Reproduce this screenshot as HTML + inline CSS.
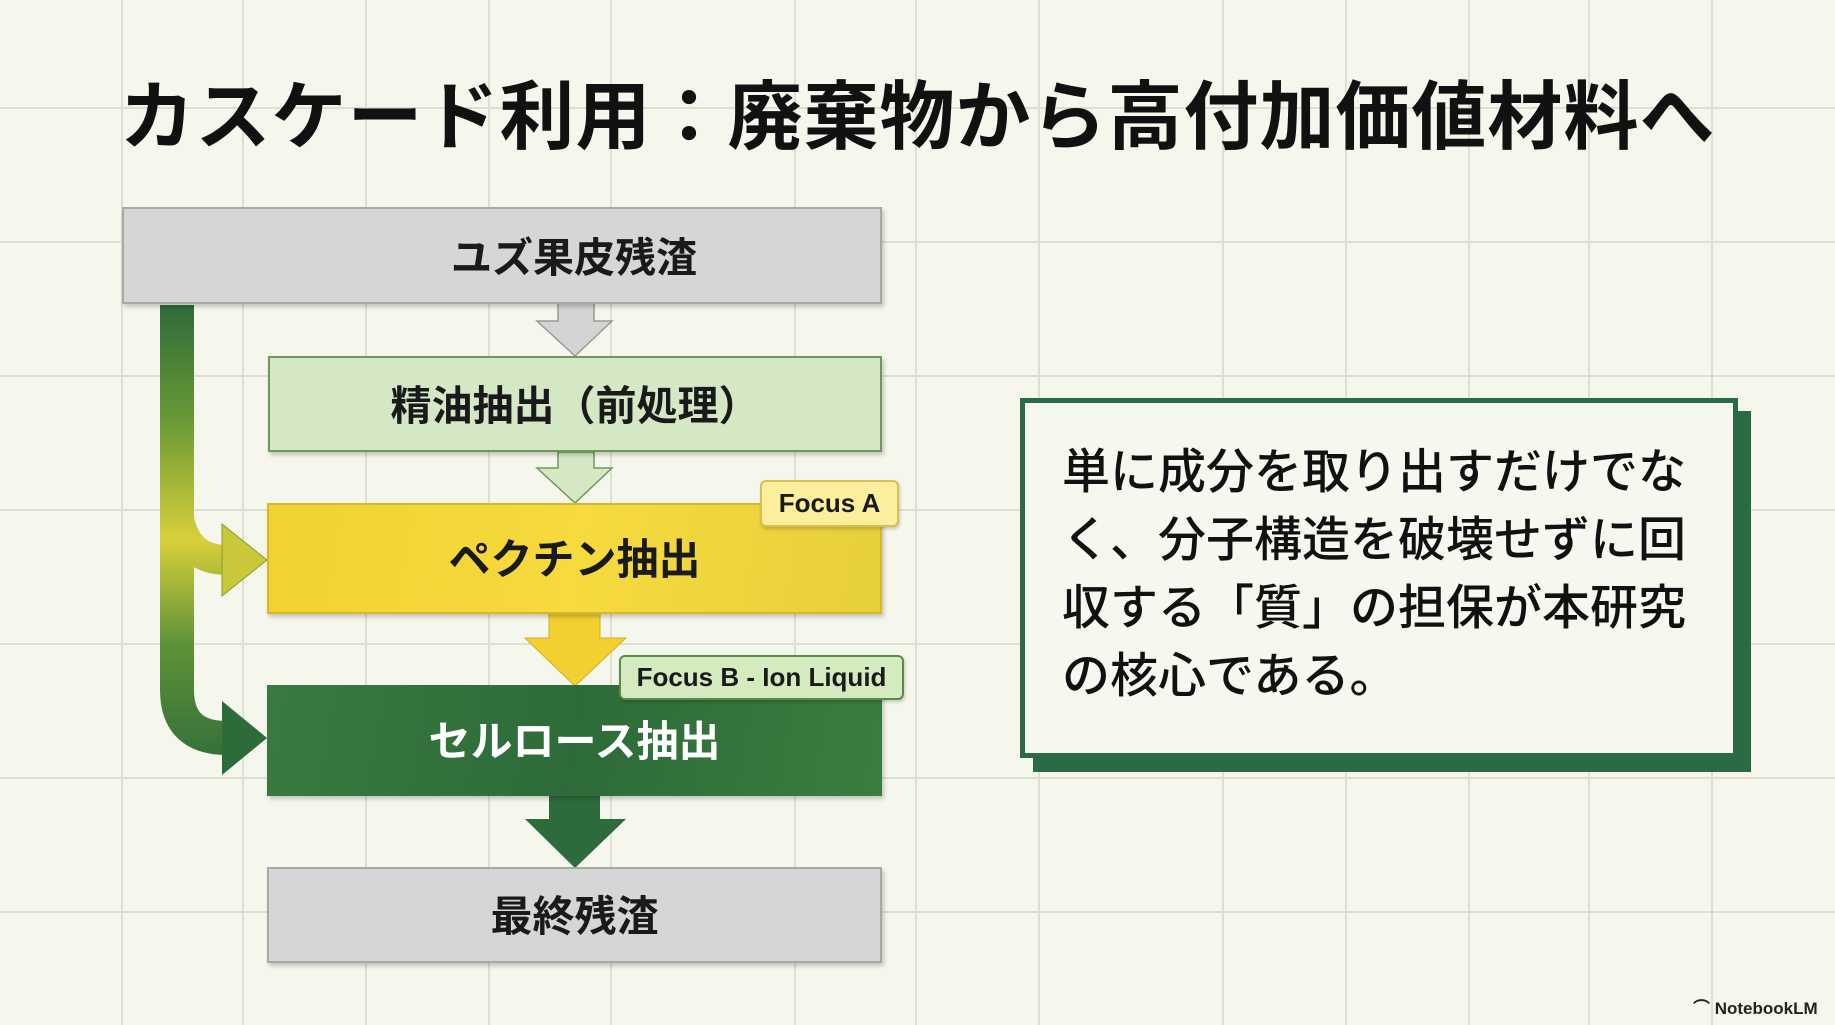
<!DOCTYPE html>
<html><head><meta charset="utf-8"><style>
*{margin:0;padding:0;box-sizing:border-box}
body{width:1835px;height:1025px;overflow:hidden;position:relative;background:#f5f6ec;font-family:"Liberation Sans","Noto Sans CJK JP",sans-serif}
.a{position:absolute}
.title{left:0;width:1835px;top:70px;text-align:center;font-size:75px;font-weight:bold;color:#111;line-height:94px;letter-spacing:1px}
.box{position:absolute;display:flex;align-items:center;justify-content:center;font-weight:bold;font-size:41px;color:#1a1a1a;box-shadow:2px 3px 4px rgba(0,0,0,.2);padding-bottom:4px}
.tag{position:absolute;display:flex;align-items:center;justify-content:center;font-weight:bold;font-size:26px;color:#1a1a1a;border-radius:6px;box-shadow:1px 2px 3px rgba(0,0,0,.2)}
</style></head><body>
<svg class="a" style="left:0;top:0" width="1835" height="1025">
<g stroke="#dcdfd2" stroke-width="2">
<line x1="122" y1="0" x2="122" y2="1025"/><line x1="243" y1="0" x2="243" y2="1025"/><line x1="366" y1="0" x2="366" y2="1025"/><line x1="489" y1="0" x2="489" y2="1025"/><line x1="611" y1="0" x2="611" y2="1025"/><line x1="795" y1="0" x2="795" y2="1025"/><line x1="916" y1="0" x2="916" y2="1025"/><line x1="1039" y1="0" x2="1039" y2="1025"/><line x1="1223" y1="0" x2="1223" y2="1025"/><line x1="1346" y1="0" x2="1346" y2="1025"/><line x1="1469" y1="0" x2="1469" y2="1025"/><line x1="1589" y1="0" x2="1589" y2="1025"/><line x1="1712" y1="0" x2="1712" y2="1025"/>
<line x1="0" y1="108" x2="1835" y2="108"/><line x1="0" y1="242" x2="1835" y2="242"/><line x1="0" y1="376" x2="1835" y2="376"/><line x1="0" y1="510" x2="1835" y2="510"/><line x1="0" y1="644" x2="1835" y2="644"/><line x1="0" y1="778" x2="1835" y2="778"/><line x1="0" y1="912" x2="1835" y2="912"/>
</g></svg>
<div class="a title">カスケード利用：廃棄物から高付加価値材料へ</div>

<svg class="a" style="left:0;top:0" width="1835" height="1025">
<defs>
<linearGradient id="g" x1="0" y1="305" x2="0" y2="775" gradientUnits="userSpaceOnUse">
<stop offset="0" stop-color="#2e6b3a"/><stop offset="0.25" stop-color="#6a9a35"/><stop offset="0.5" stop-color="#d9d03a"/><stop offset="0.72" stop-color="#5f9238"/><stop offset="1" stop-color="#2e6b3a"/>
</linearGradient>
</defs>
<polygon points="558,303 594,303 594,321 612,321 575,356 537,321 558,321" fill="#d4d4d4" stroke="#999" stroke-width="1.5"/>
<polygon points="558,452 594,452 594,468 612,468 575,503 537,468 558,468" fill="#d3e8c3" stroke="#6a9a5a" stroke-width="1.5"/>
<polygon points="549,613 600,613 600,638 626,638 575,686 525,638 549,638" fill="#f2d030" stroke="#d2b020" stroke-width="1"/>
<polygon points="549,795 600,795 600,819 626,819 575,868 525,819 549,819" fill="#2d6b3c"/>
<path d="M177 305 V690 Q177 738 227 738" fill="none" stroke="url(#g)" stroke-width="34"/>
<path d="M177 495 Q177 560 227 560" fill="none" stroke="url(#g)" stroke-width="30"/>
<polygon points="222,524 267,560 222,596" fill="#c9c83a" stroke="#8a9a30" stroke-width="1"/>
<polygon points="222,701 267,738 222,775" fill="#2e6b3a"/>
</svg>

<div class="box" style="left:122px;top:207px;width:760px;height:97px;background:#d6d6d6;border:2px solid #a8a8a8;padding-left:144px">ユズ果皮残渣</div>
<div class="box" style="left:268px;top:356px;width:614px;height:96px;background:#d4e8c5;border:2px solid #6a9a5a">精油抽出（前処理）</div>
<div class="box" style="left:267px;top:503px;width:615px;height:111px;background:linear-gradient(100deg,#f0d232,#f6da3e 50%,#e7cf3c);border:2px solid #d6b828;font-size:42px">ペクチン抽出</div>
<div class="box" style="left:267px;top:685px;width:615px;height:111px;background:linear-gradient(100deg,#3a7a40,#2d6b3a 50%,#3c7d3e);color:#fff;font-size:42px">セルロース抽出</div>
<div class="box" style="left:267px;top:867px;width:615px;height:96px;background:#d6d6d6;border:2px solid #a8a8a8;font-size:42px">最終残渣</div>

<div class="tag" style="left:760px;top:480px;width:139px;height:47px;background:#fbee9c;border:2px solid #d8c050">Focus A</div>
<div class="tag" style="left:619px;top:655px;width:285px;height:45px;background:#d4ebc0;border:2px solid #5c8a4a">Focus B - Ion Liquid</div>

<div class="a" style="left:1033px;top:411px;width:718px;height:361px;background:#2a6a45"></div>
<div class="a" style="left:1020px;top:398px;width:718px;height:360px;background:#f6f7ee;border:5px solid #2a6a45;padding:36px 0 0 37px;font-size:48px;line-height:68px;color:#111;font-weight:500">単に成分を取り出すだけでな<br>く、分子構造を破壊せずに回<br>収する「質」の担保が本研究<br>の核心である。</div>

<div class="a" style="left:1693px;top:994px;font-size:17px;font-weight:bold;color:#222">⌒ NotebookLM</div>
</body></html>
